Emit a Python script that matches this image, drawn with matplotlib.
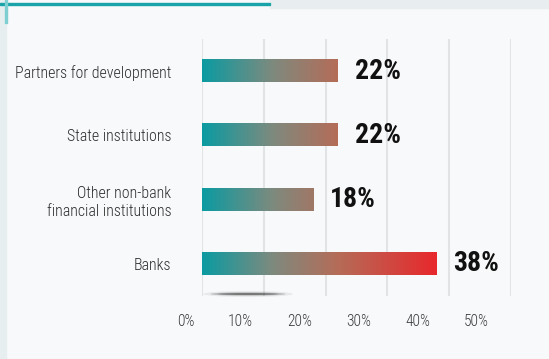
import matplotlib.pyplot as plt
import numpy as np
from matplotlib.colors import LinearSegmentedColormap
from matplotlib.patches import Rectangle, Ellipse
from matplotlib.transforms import blended_transform_factory

categories = ['Partners for development', 'State institutions',
              'Other non-bank\nfinancial institutions', 'Banks']
shares = [22, 22, 18, 38]
tick_values = [0, 10, 20, 30, 40, 50]
tick_labels = ['0%', '10%', '20%', '30%', '40%', '50%']

W, H = 549, 359
fig = plt.figure(figsize=(W / 100, H / 100), dpi=100, facecolor='#f8f9fb')

# page decoration: left strip, top band, teal rules
fig.patches.append(Rectangle((0, 0), 6 / W, 1, transform=fig.transFigure,
                             color='#e6eef0', zorder=0))
fig.patches.append(Rectangle((270 / W, 1 - 8 / H), 1, 8 / H, transform=fig.transFigure,
                             color='#e8eeef', zorder=0))
fig.patches.append(Rectangle((0, 1 - 5 / H), 270 / W, 1.5 / H, transform=fig.transFigure,
                             color='#1aa3a8', zorder=1))
fig.patches.append(Rectangle((5 / W, 1 - 23 / H), 2 / W, 23 / H, transform=fig.transFigure,
                             color='#7fcfd2', zorder=1))
# soft shadow under the chart
for w, h, a in [(90, 6, 0.08), (75, 3.5, 0.25), (60, 2, 0.5)]:
    fig.patches.append(Ellipse((248 / W, 1 - 294 / H), w / W, h / H,
                               transform=fig.transFigure, color='#333333',
                               alpha=a, zorder=1, lw=0))

ax = fig.add_axes([202 / W, 1 - 296 / H, 309 / W, 257 / H])
ax.set_facecolor('none')

cmap = LinearSegmentedColormap.from_list(
    'teal_red', [(0, '#0b9ba1'), (0.3, '#7e8a7e'), (0.58, '#b56c58'), (1, '#e8282c')])
vmax = max(shares)
bar_h = 0.345
cond_font = ['Roboto Condensed', 'Barlow Condensed', 'DejaVu Sans']

for i, v in enumerate(shares):
    grad = np.linspace(0, v, 256)[None, :]
    ax.imshow(grad, extent=[0, v, i + bar_h / 2, i - bar_h / 2], cmap=cmap,
              vmin=0, vmax=vmax, aspect='auto', zorder=3, interpolation='bilinear')
    ax.text(v + 2.7, i, '%d%%' % v, va='center', ha='left', fontsize=20,
            fontweight='bold', family=cond_font, color='#111111', zorder=4)

ax.set_xlim(0, 50)
ax.set_ylim(len(categories) - 0.5, -0.5)
ax.set_xticks(tick_values)
ax.grid(axis='x', color='#e2e3e5', lw=1.5, zorder=0)
ax.tick_params(axis='x', length=0, labelbottom=False)
ax.set_yticks(range(len(categories)))
ax.set_yticklabels(categories, fontsize=11.4, family=cond_font, fontweight='light',
                   color='#2e2e2e')
ax.tick_params(axis='y', length=0, pad=22)
for s in ax.spines.values():
    s.set_visible(False)

# percentage labels sit right-aligned on a slightly compressed scale
trans = blended_transform_factory(ax.transData, ax.transAxes)
for t, lab in zip(tick_values, tick_labels):
    ax.text(t * 0.955 - 1.29, -0.1, lab, transform=trans, ha='right', va='center',
            fontsize=11.2, family=cond_font, fontweight='light', color='#3c3c3c',
            clip_on=False)

fig.savefig('out.png', dpi=100, facecolor=fig.get_facecolor())
